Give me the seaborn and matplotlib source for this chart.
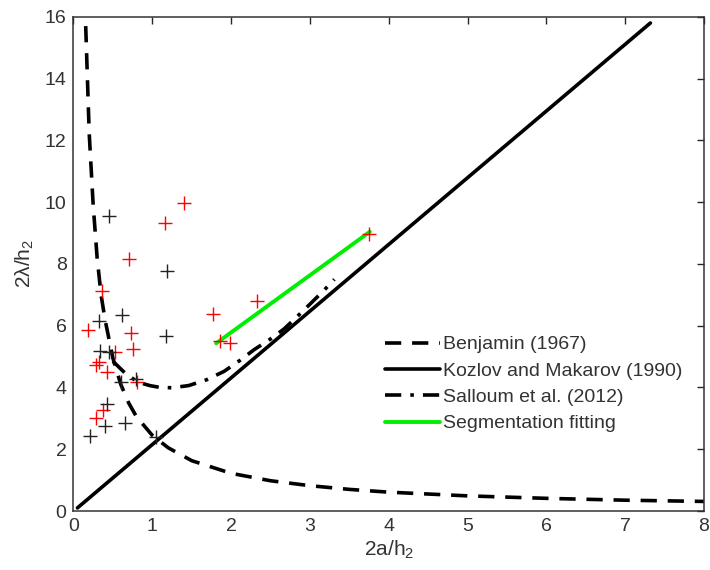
import numpy as np
import pandas as pd
import matplotlib
matplotlib.use("Agg")
import matplotlib.pyplot as plt
import seaborn as sns

# values
red_x = [1.40, 1.16, 0.71, 0.36, 0.18, 0.73, 0.75, 0.53, 0.32, 0.29, 0.43, 0.81, 0.37, 0.29,
         1.77, 2.33, 1.86, 1.99, 3.75]
red_y = [9.98, 9.31, 8.15, 7.11, 5.86, 5.77, 5.23, 5.16, 4.82, 4.74, 4.49, 4.19, 3.26, 3.01,
         6.38, 6.81, 5.52, 5.44, 8.96]

black_x = [0.45, 1.19, 0.32, 0.62, 1.17, 0.34, 0.45, 0.60, 0.79, 0.42, 0.40, 0.65, 0.21, 1.05]
black_y = [9.55, 7.76, 6.14, 6.33, 5.65, 5.19, 5.14, 4.19, 4.29, 3.45, 2.74, 2.85, 2.42, 2.40]

benjamin_x = [0.155, 0.2, 0.25, 0.3, 0.35, 0.4, 0.5, 0.6, 0.7, 0.8, 1.0, 1.2, 1.5, 2.0,
              2.5, 3.0, 3.5, 4.0, 5.0, 6.0, 7.0, 8.0]
benjamin_y = [15.7, 12.2, 9.9, 8.2, 7.0, 6.2, 4.95, 4.1, 3.5, 3.05, 2.45, 2.05, 1.63, 1.22,
              0.98, 0.82, 0.70, 0.61, 0.49, 0.41, 0.35, 0.31]

kozlov_x = [0.05, 7.32]
kozlov_y = [0.1, 15.8]

salloum_x = [0.5, 0.66, 0.82, 0.97, 1.1, 1.25, 1.46, 1.69, 1.91, 2.12, 2.29, 2.5, 2.67,
             2.84, 3.01, 3.18, 3.31]
salloum_y = [4.85, 4.45, 4.17, 4.06, 4.0, 3.99, 4.06, 4.25, 4.52, 4.89, 5.22, 5.57, 5.89,
             6.3, 6.72, 7.15, 7.5]

seg_x = [1.81, 3.76]
seg_y = [5.43, 9.04]

sns.set_style("white")
plt.rcParams['font.family'] = ['Liberation Sans', 'DejaVu Sans']
plt.rcParams['mathtext.fontset'] = 'custom'
plt.rcParams['mathtext.rm'] = 'Liberation Sans'
plt.rcParams['mathtext.default'] = 'regular'

fig = plt.figure(figsize=(7.1, 5.7), dpi=100)
ax = fig.add_axes([0.1035, 0.1035, 0.888, 0.867])

sns.lineplot(x=benjamin_x, y=benjamin_y, ax=ax, color='black', lw=2.6, sort=False,
             estimator=None, label='Benjamin (1967)')
ax.lines[-1].set_dashes((4.5, 3))
sns.lineplot(x=kozlov_x, y=kozlov_y, ax=ax, color='black', lw=2.6, sort=False,
             estimator=None, label='Kozlov and Makarov (1990)')
sns.lineplot(x=salloum_x, y=salloum_y, ax=ax, color='black', lw=2.6, sort=False,
             estimator=None, label='Salloum et al. (2012)')
ax.lines[-1].set_dashes((4.5, 2.5, 1, 2.5))
sns.lineplot(x=seg_x, y=seg_y, ax=ax, color='#00ee00', lw=2.8, sort=False,
             estimator=None, label='Segmentation fitting')

sns.scatterplot(x=red_x, y=red_y, ax=ax, marker='+', color='red', s=90, linewidth=1.0,
                zorder=3)
sns.scatterplot(x=black_x, y=black_y, ax=ax, marker='+', color='#222222', s=90,
                linewidth=1.0, zorder=3)

ax.set_xlim(0, 8)
ax.set_ylim(0, 16)
ax.set_xticks(range(0, 9))
ax.set_yticks(range(0, 17, 2))
ax.tick_params(direction='in', length=5, width=1, top=True, right=True,
               labelsize=14, labelcolor='#333333', pad=5)
for sp in ax.spines.values():
    sp.set_color('#333333')
    sp.set_linewidth(1.1)

ax.set_xlabel('2a/h$_2$', fontsize=15, color='#333333', labelpad=3)
ax.set_ylabel('2λ/h$_2$', fontsize=15, color='#333333', labelpad=6)

ax.legend(loc='upper left', bbox_to_anchor=(0.467, 0.39), frameon=False, fontsize=14,
          handlelength=2.8, handletextpad=0.15, labelspacing=0.45, labelcolor='#333333')

fig.savefig('out.png', dpi=100)
